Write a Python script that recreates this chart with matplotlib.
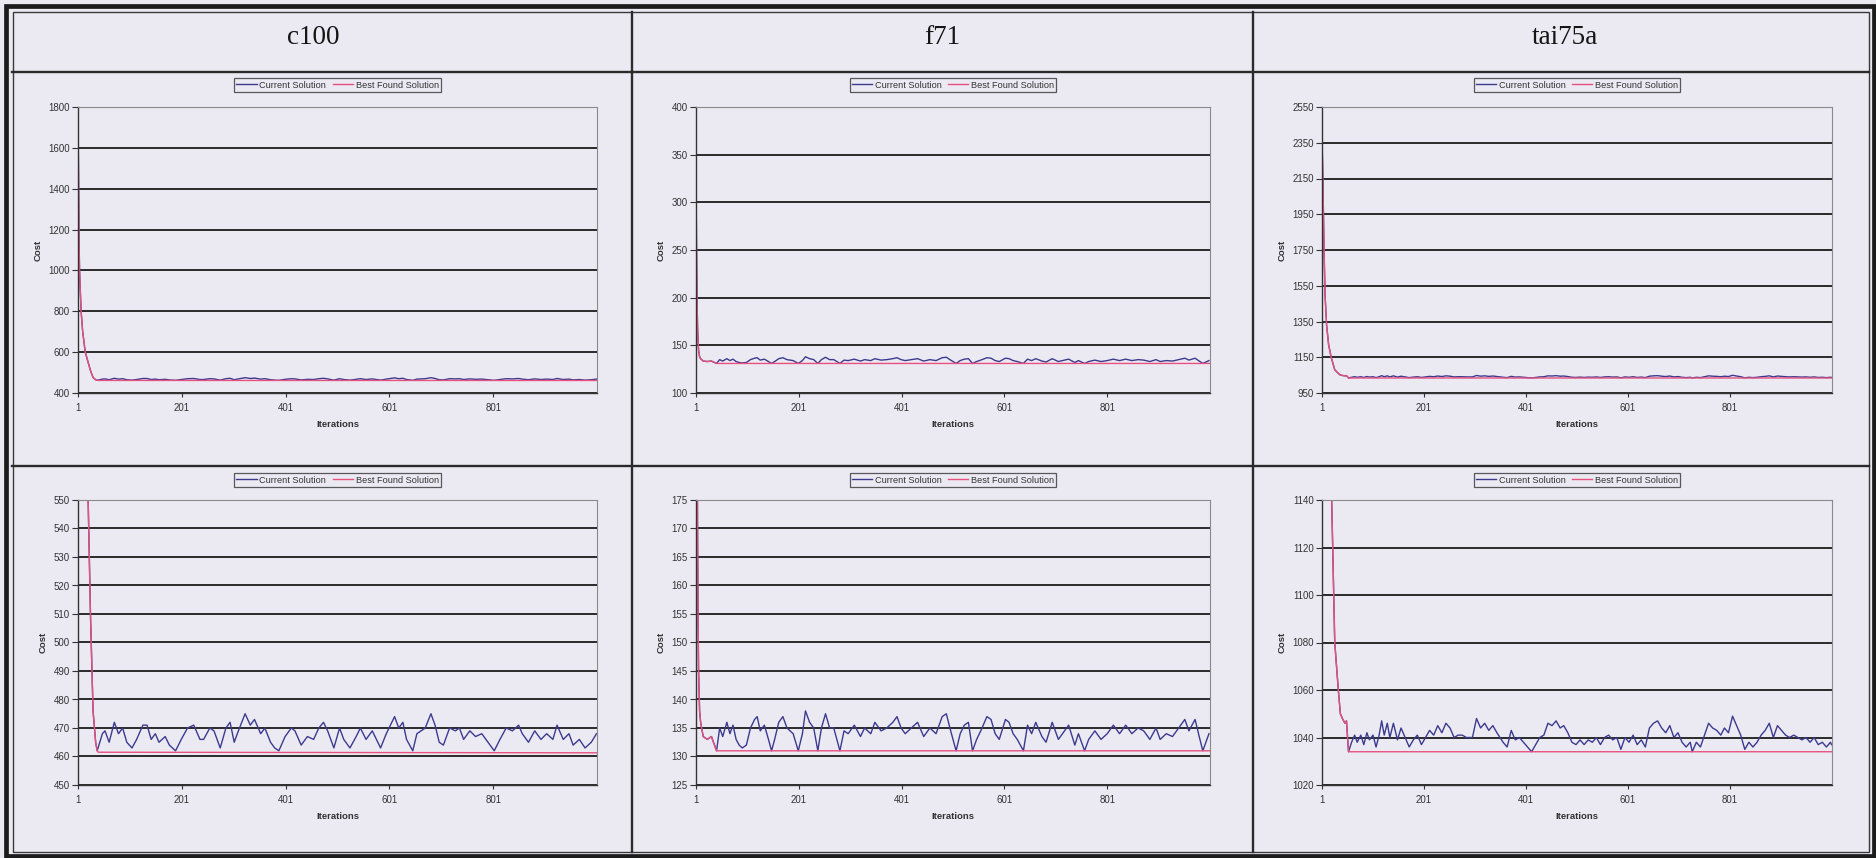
import matplotlib
matplotlib.use("Agg")
import matplotlib.pyplot as plt
from matplotlib.lines import Line2D
from matplotlib.patches import Rectangle

# ---- data ----
instances = ["c100", "f71", "tai75a"]

# c100: greedy descent shared by both series, then the walk
c100_start_iter = [1, 2, 3, 4, 5, 7, 10, 15, 20, 25, 30, 35, 38]
c100_start_cost = [1800, 1450, 1150, 1000, 930, 800, 700, 600, 555, 510, 476, 465, 462]
c100_iter = [48, 53, 61, 71, 79, 87, 95, 105, 114, 126,
             134, 142, 150, 157, 169, 177, 189, 200, 212, 224,
             236, 243, 255, 263, 275, 286, 294, 302, 310, 323,
             333, 341, 353, 361, 372, 380, 388, 400, 412, 419,
             431, 443, 455, 465, 474, 482, 494, 505, 513, 525,
             537, 545, 556, 568, 584, 595, 611, 619, 627, 634,
             646, 654, 670, 681, 689, 697, 705, 717, 728, 736,
             744, 756, 767, 779, 791, 803, 814, 826, 838, 850,
             857, 869, 881, 893, 904, 916, 924, 936, 947, 955,
             967, 978, 990, 1000]
c100_current = [468, 469, 465, 472, 468, 470, 465, 463, 466, 471,
                471, 466, 468, 465, 467, 464, 462, 466, 470, 471,
                466, 466, 470, 469, 463, 470, 472, 465, 469, 475,
                471, 473, 468, 470, 465, 463, 462, 467, 470, 469,
                464, 467, 466, 470, 472, 469, 463, 470, 466, 463,
                467, 470, 466, 469, 463, 468, 474, 470, 472, 466,
                462, 468, 470, 475, 471, 465, 464, 470, 469, 470,
                466, 469, 467, 468, 465, 462, 466, 470, 469, 471,
                468, 465, 469, 466, 468, 466, 471, 466, 468, 464,
                466, 463, 465, 468]
c100_best_iter = [40, 1000]
c100_best = [461.5, 461.3]

# f71
f71_start_iter = [1, 2, 3, 4, 5, 6, 8, 10, 15, 23, 31, 37, 41]
f71_start_cost = [335, 250, 200, 170, 155, 145, 138, 136, 133.5, 133, 133.5, 132, 131]
f71_iter = [47, 53, 61, 67, 73, 79, 85, 91, 99, 107,
            115, 120, 126, 134, 142, 148, 154, 162, 170, 178,
            190, 200, 208, 214, 222, 230, 238, 245, 253, 261,
            269, 281, 289, 297, 309, 321, 329, 341, 349, 361,
            372, 384, 392, 400, 408, 420, 432, 444, 456, 468,
            480, 488, 495, 507, 515, 523, 531, 539, 547, 555,
            567, 575, 583, 591, 603, 610, 618, 626, 638, 646,
            654, 662, 674, 682, 694, 706, 714, 726, 738, 745,
            757, 765, 777, 789, 801, 813, 825, 837, 849, 861,
            872, 884, 896, 904, 916, 928, 940, 952, 960, 972,
            980, 987, 995, 999]
f71_current = [135, 133.5, 136, 134, 135.5, 133, 132, 131.5, 132, 135,
               136.5, 137, 134.5, 135.5, 133, 131, 133, 136, 137, 135,
               134, 131, 134, 138, 136, 135, 131, 135, 137.5, 135,
               135, 131, 134.5, 134, 135.5, 133.5, 135, 134, 136, 134.5,
               135, 136, 137, 135, 134, 135, 136, 133.5, 135, 134,
               137, 137.5, 135, 131, 134, 135.5, 136, 131, 133, 134.5,
               137, 136.5, 134, 133, 136.5, 136, 134, 133, 131, 135.5,
               134, 136, 133.5, 132.5, 136, 133, 134, 135.5, 132, 134,
               131, 133, 134.5, 133, 134, 135.5, 134, 135.5, 134, 135,
               134.5, 133, 135, 133, 134, 133.5, 135, 136.5, 134.5, 136.5,
               133.5, 131, 133, 134]
f71_best_iter = [41, 1000]
f71_best = [131, 131]

# tai75a
tai_start_iter = [1, 2, 3, 5, 7, 10, 14, 19, 22, 26, 33, 37, 41, 46, 49, 53]
tai_start_cost = [2380, 2250, 2100, 1750, 1500, 1330, 1220, 1150, 1120, 1080,
                  1060, 1050, 1048, 1046, 1047, 1034]
tai_iter = [59, 65, 70, 77, 83, 89, 94, 101, 107, 113,
            118, 123, 129, 134, 141, 149, 156, 164, 172, 180,
            188, 196, 204, 212, 220, 228, 236, 244, 252, 260,
            268, 276, 284, 296, 304, 312, 320, 328, 336, 344,
            356, 364, 372, 380, 388, 396, 404, 412, 420, 428,
            436, 444, 452, 460, 468, 475, 483, 491, 499, 507,
            515, 523, 531, 539, 547, 555, 563, 571, 579, 587,
            595, 603, 611, 619, 627, 635, 643, 651, 659, 667,
            675, 683, 691, 699, 707, 715, 723, 727, 735, 743,
            751, 759, 767, 775, 783, 790, 798, 806, 814, 822,
            830, 838, 846, 854, 862, 870, 878, 886, 894, 902,
            910, 918, 926, 934, 942, 950, 958, 966, 974, 982,
            990, 998, 1000]
tai_current = [1038, 1041, 1038, 1041, 1037, 1042, 1039, 1041, 1036, 1041,
               1047, 1041, 1046, 1040, 1046, 1039, 1044, 1040, 1036, 1039,
               1041, 1037, 1040, 1043, 1041, 1045, 1042, 1046, 1044, 1040,
               1041, 1041, 1040, 1040, 1048, 1044, 1046, 1043, 1045, 1042,
               1038, 1036, 1043, 1039, 1040, 1038, 1036, 1034, 1037, 1040,
               1041, 1046, 1045, 1047, 1044, 1045, 1042, 1038, 1037, 1039,
               1037, 1039, 1038, 1040, 1037, 1040, 1041, 1039, 1040, 1035,
               1040, 1038, 1041, 1037, 1039, 1036, 1044, 1046, 1047, 1044,
               1042, 1045, 1040, 1042, 1038, 1036, 1038, 1034, 1038, 1036,
               1041, 1046, 1044, 1043, 1041, 1044, 1042, 1049, 1045, 1041,
               1035, 1038, 1036, 1038, 1041, 1043, 1046, 1040, 1045, 1043,
               1041, 1040, 1041, 1040, 1039, 1040, 1038, 1040, 1037, 1038,
               1036, 1038, 1037]
tai_best_iter = [53, 1000]
tai_best = [1034, 1034]

# y scales: (low, high, step) for full view and zoomed view
full_ranges = [(400, 1800, 200), (100, 400, 50), (950, 2550, 200)]
zoom_ranges = [(450, 550, 10), (125, 175, 5), (1020, 1140, 20)]
x_ticks = [1, 201, 401, 601, 801]

# ---- layout (pixels) ----
W, H = 1876, 858
BG = "#ebeaf3"
CUR = "#3c3a8e"
BEST = "#e8507f"

plt.rcParams["font.family"] = ["Liberation Sans", "DejaVu Sans"]

fig = plt.figure(figsize=(W / 100, H / 100), dpi=100, facecolor=BG)


def fx(x):
    return x / W


def fy(y):
    return 1 - y / H


def hline(y, x0, x1, lw=1.7, color="#2b2b2b"):
    fig.add_artist(Line2D([fx(x0), fx(x1)], [fy(y), fy(y)], transform=fig.transFigure,
                          color=color, lw=lw))


def vline(x, y0, y1, lw=1.7, color="#2b2b2b"):
    fig.add_artist(Line2D([fx(x), fx(x)], [fy(y0), fy(y1)], transform=fig.transFigure,
                          color=color, lw=lw))


# table frame
fig.add_artist(Rectangle((fx(6), fy(856)), fx(1868), (850) / H, transform=fig.transFigure,
                         fill=False, lw=3.4, ec="#1c1c1c"))
fig.add_artist(Rectangle((fx(12.5), fy(852)), fx(1856.5), (840.5) / H, transform=fig.transFigure,
                         fill=False, lw=1.0, ec="#3a3a3a"))
hline(71.5, 12, 1869)
hline(466, 12, 1869)
vline(632, 12, 852)
vline(1253, 12, 852)

header_x = [313, 942, 1565]
for name, hx in zip(instances, header_x):
    fig.text(fx(hx), fy(38), name, ha="center", va="center", fontsize=19.5,
             family=["Liberation Serif", "DejaVu Serif"], color="#151515")

col_left = [78, 696, 1322]
col_right = [597, 1210, 1832]
row_top = [107, 500]
row_bottom = [393, 785]
legend_y = [85, 480]

series = [
    (c100_start_iter + c100_iter, c100_start_cost + c100_current,
     c100_start_iter + c100_best_iter, c100_start_cost + c100_best),
    (f71_start_iter + f71_iter, f71_start_cost + f71_current,
     f71_start_iter + f71_best_iter, f71_start_cost + f71_best),
    (tai_start_iter + tai_iter, tai_start_cost + tai_current,
     tai_start_iter + tai_best_iter, tai_start_cost + tai_best),
]

for col in range(3):
    cx, cy, bx, by = series[col]
    for row in range(2):
        lo, hi, step = (full_ranges if row == 0 else zoom_ranges)[col]
        l, r = col_left[col], col_right[col]
        t, b = row_top[row], row_bottom[row]
        ax = fig.add_axes([fx(l), fy(b), (r - l) / W, (b - t) / H])
        ax.set_facecolor("none")
        ax.plot(cx, cy, color=CUR, lw=1.0, label="Current Solution")
        ax.plot(bx, by, color=BEST, lw=1.0, label="Best Found Solution")
        ax.set_xlim(1, 1001)
        ax.set_ylim(lo, hi)
        ax.set_yticks(list(range(lo, hi + 1, step)))
        ax.set_xticks(x_ticks)
        ax.yaxis.grid(True, color="#2a2a2a", lw=1.4)
        for s in ["left", "bottom"]:
            ax.spines[s].set_color("#333333")
            ax.spines[s].set_linewidth(1.0)
        for s in ["top", "right"]:
            ax.spines[s].set_color("#8a8a8a")
            ax.spines[s].set_linewidth(0.8)
        ax.tick_params(axis="y", direction="out", length=4, width=0.8, pad=2,
                       labelsize=7, colors="#333333")
        ax.tick_params(axis="x", direction="out", length=3, width=0.8, pad=4,
                       labelsize=7, colors="#333333")
        ax.set_xlabel("Iterations", fontsize=6.8, fontweight="bold", color="#333333", labelpad=5)
        ax.set_ylabel("Cost", fontsize=6.8, fontweight="bold", color="#333333", labelpad=4)
        leg = ax.legend(loc="center", ncol=2, bbox_to_anchor=(fx((l + r) / 2), fy(legend_y[row])),
                        bbox_transform=fig.transFigure, fontsize=6.6, frameon=True,
                        fancybox=False, handlelength=2.2, handletextpad=0.3,
                        columnspacing=0.7, borderpad=0.25, borderaxespad=0)
        leg.get_frame().set_edgecolor("#333333")
        leg.get_frame().set_linewidth(0.9)
        leg.get_frame().set_facecolor("none")
        for txt in leg.get_texts():
            txt.set_color("#333333")

fig.savefig("out.png", dpi=100, facecolor=BG)
